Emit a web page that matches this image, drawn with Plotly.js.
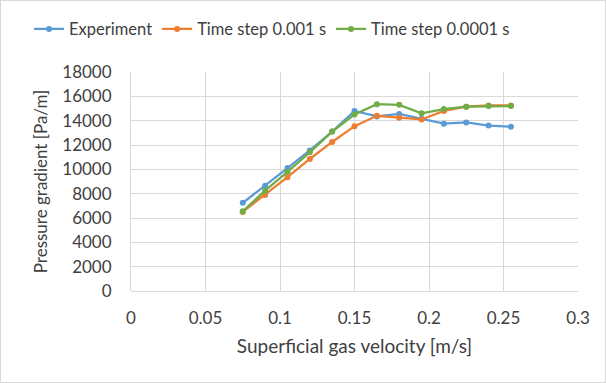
<!DOCTYPE html>
<html><head><meta charset="utf-8">
<script src="https://cdn.plot.ly/plotly-3.0.1.min.js"></script>
<style>body{margin:0;padding:0;background:#fff}#frame{width:604px;height:381px;border:1px solid #d9d9d9}#chart{width:604px;height:381px}</style>
</head><body><div id="frame"><div id="chart"></div></div>
<script>
var velocity = [0.075, 0.09, 0.105, 0.12, 0.135, 0.15, 0.165, 0.18, 0.195, 0.21, 0.225, 0.24, 0.255];
var experiment = [7250, 8650, 10100, 11550, 13100, 14800, 14350, 14550, 14150, 13750, 13850, 13600, 13500];
var step001 = [6500, 7900, 9350, 10850, 12250, 13550, 14400, 14250, 14100, 14800, 15150, 15250, 15250];
var step0001 = [6550, 8250, 9800, 11400, 13100, 14500, 15350, 15300, 14600, 14950, 15150, 15200, 15200];
var seriesNames = ['Experiment', 'Time step 0.001 s', 'Time step 0.0001 s'];
var colors = ['#5B9BD5', '#ED7D31', '#70AD47'];
var ys = [experiment, step001, step0001];
var traces = ys.map(function(y, i){
  return {x: velocity, y: y, name: seriesNames[i], type: 'scatter', mode: 'lines+markers',
    line: {color: colors[i], width: 2.25}, marker: {color: colors[i], size: 6}};
});
var fam = 'Lato, "Open Sans", sans-serif';
var layout = {
  width: 604, height: 381,
  margin: {l: 130, r: 27, t: 70, b: 91},
  paper_bgcolor: '#fff', plot_bgcolor: '#fff',
  font: {family: fam, size: 16, color: '#404040'},
  showlegend: true,
  legend: {orientation: 'h', x: -0.228, xanchor: 'left', y: 1.19, yanchor: 'middle', font: {size: 16.5, color: '#404040', family: fam}, tracegroupgap: 0},
  xaxis: {range: [0, 0.3], dtick: 0.05, tick0: 0, showgrid: true, gridcolor: '#d9d9d9', gridwidth: 1, zeroline: false, showline: false, ticks: '', ticklabelstandoff: 15, tickfont: {size: 17, color: '#404040'},
    title: {text: 'Superficial gas velocity [m/s]', font: {size: 19, color: '#404040'}, standoff: 12}},
  yaxis: {range: [0, 18000], dtick: 2000, tick0: 0, tickformat: 'd', showgrid: true, gridcolor: '#d9d9d9', gridwidth: 1, zeroline: true, zerolinecolor: '#d9d9d9', showline: true, linecolor: '#d9d9d9', ticks: '', ticklabelstandoff: 15, tickfont: {size: 17, color: '#404040'},
    title: {text: 'Pressure gradient [Pa/m]', font: {size: 17, color: '#404040'}, standoff: 10}}
};
Plotly.newPlot('chart', traces, layout, {displayModeBar: false, staticPlot: true});
</script></body></html>
